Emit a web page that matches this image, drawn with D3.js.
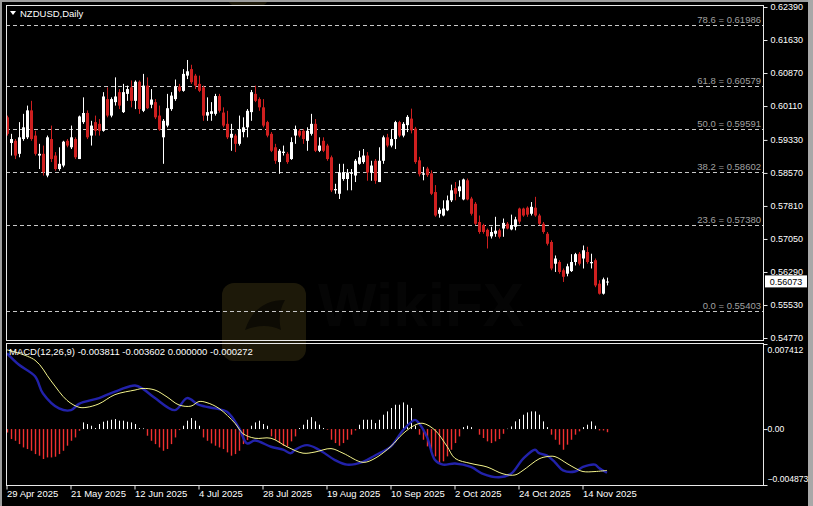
<!DOCTYPE html>
<html>
<head>
<meta charset="utf-8">
<script src="https://cdn.jsdelivr.net/npm/d3@7"></script>
<style>
  body { margin: 0; background: #000; }
  svg text { font-family: "Liberation Sans", Arial, sans-serif; font-size: 9.5px; }
</style>
</head>
<body>
<div id="chart"></div>
<script>
// NZDUSD daily candles (one entry per bar)
var opens = [0.5985,0.5926,0.5931,0.5901,0.5935,0.5939,0.6001,0.5943,0.5897,0.5901,
 0.5851,0.5935,0.5897,0.5866,0.5874,0.5931,0.5916,0.5935,0.5889,0.5974,
 0.5995,0.5943,0.5974,0.5970,0.5954,0.6027,0.5989,0.6020,0.6043,0.5997,
 0.6039,0.6054,0.6023,0.6067,0.6000,0.6058,0.6014,0.6020,0.5989,0.5939,
 0.5966,0.6004,0.6027,0.6056,0.6046,0.6081,0.6096,0.6081,0.6062,0.6054,
 0.5989,0.5993,0.5993,0.6034,0.5996,0.5970,0.5938,0.5943,0.5924,0.5951,
 0.5962,0.5997,0.6039,0.6027,0.6008,0.5974,0.5947,0.5916,0.5882,0.5903,
 0.5901,0.5889,0.5943,0.5954,0.5954,0.5931,0.5947,0.5970,0.5908,0.5931,
 0.5920,0.5893,0.5817,0.5809,0.5843,0.5843,0.5855,0.5851,0.5878,0.5882,
 0.5897,0.5858,0.5885,0.5836,0.5885,0.5939,0.5920,0.5935,0.5974,0.5943,
 0.5967,0.5982,0.5959,0.5886,0.5853,0.5867,0.5856,0.5813,0.5763,0.5759,
 0.5771,0.5794,0.5822,0.5815,0.5796,0.5840,0.5798,0.5786,0.5744,0.5737,
 0.5726,0.5711,0.5717,0.5725,0.5729,0.5740,0.5727,0.5733,0.5775,0.5775,
 0.5777,0.5763,0.5777,0.5759,0.5740,0.5717,0.5698,0.5648,0.5652,0.5633,
 0.5625,0.5631,0.5652,0.5671,0.5660,0.5675,0.5649,0.5656,0.5602,0.5579,
 0.5606];

var highs = [0.5989,0.5947,0.5935,0.5974,0.5993,0.6012,0.6023,0.5954,0.5924,0.5920,
 0.5943,0.5966,0.5905,0.5916,0.5931,0.5935,0.5966,0.5939,0.5989,0.6031,
 0.6001,0.5977,0.5989,0.5981,0.6043,0.6054,0.6031,0.6077,0.6050,0.6062,
 0.6058,0.6070,0.6070,0.6070,0.6085,0.6077,0.6050,0.6027,0.6012,0.5981,
 0.6039,0.6043,0.6072,0.6062,0.6096,0.6117,0.6106,0.6085,0.6081,0.6058,
 0.6031,0.6020,0.6039,0.6039,0.6008,0.6000,0.5970,0.5947,0.5989,0.5985,
 0.6004,0.6048,0.6058,0.6031,0.6027,0.5977,0.5951,0.5924,0.5912,0.5920,
 0.5905,0.5939,0.5966,0.5958,0.5958,0.5962,0.5993,0.5981,0.5939,0.5939,
 0.5924,0.5897,0.5832,0.5878,0.5878,0.5866,0.5866,0.5889,0.5908,0.5912,
 0.5905,0.5885,0.5889,0.5916,0.5943,0.5947,0.5958,0.5977,0.5977,0.5974,
 0.5990,0.6005,0.5963,0.5894,0.5871,0.5871,0.5863,0.5829,0.5777,0.5794,
 0.5805,0.5830,0.5836,0.5840,0.5844,0.5844,0.5802,0.5790,0.5759,0.5740,
 0.5729,0.5733,0.5756,0.5729,0.5752,0.5744,0.5761,0.5756,0.5777,0.5777,
 0.5780,0.5790,0.5802,0.5763,0.5744,0.5721,0.5702,0.5667,0.5656,0.5637,
 0.5648,0.5670,0.5673,0.5675,0.5690,0.5687,0.5671,0.5660,0.5610,0.5616,
 0.5616];

var lows = [0.5943,0.5897,0.5889,0.5893,0.5931,0.5935,0.5931,0.5897,0.5866,0.5851,
 0.5847,0.5882,0.5862,0.5862,0.5870,0.5916,0.5912,0.5889,0.5889,0.5970,
 0.5935,0.5920,0.5943,0.5943,0.5952,0.5985,0.5985,0.6012,0.6004,0.5995,
 0.6023,0.6008,0.6004,0.5993,0.5997,0.6004,0.6006,0.5981,0.5954,0.5878,
 0.5962,0.6000,0.6023,0.6043,0.6044,0.6073,0.6062,0.6050,0.6043,0.5977,
 0.5977,0.5977,0.5989,0.5996,0.5962,0.5935,0.5908,0.5905,0.5920,0.5939,
 0.5939,0.5977,0.6020,0.6000,0.5962,0.5939,0.5905,0.5878,0.5855,0.5897,
 0.5878,0.5887,0.5924,0.5939,0.5924,0.5908,0.5943,0.5905,0.5905,0.5905,
 0.5885,0.5813,0.5809,0.5797,0.5839,0.5817,0.5817,0.5836,0.5876,0.5878,
 0.5839,0.5839,0.5832,0.5836,0.5878,0.5916,0.5916,0.5912,0.5939,0.5939,
 0.5951,0.5948,0.5878,0.5849,0.5840,0.5848,0.5806,0.5756,0.5754,0.5757,
 0.5769,0.5790,0.5794,0.5802,0.5794,0.5794,0.5759,0.5737,0.5717,0.5717,
 0.5683,0.5706,0.5710,0.5706,0.5710,0.5727,0.5725,0.5725,0.5740,0.5756,
 0.5756,0.5759,0.5756,0.5737,0.5717,0.5690,0.5633,0.5629,0.5625,0.5606,
 0.5619,0.5629,0.5644,0.5644,0.5637,0.5648,0.5637,0.5594,0.5577,0.5577,
 0.5598];

var closes = [0.5947,0.5935,0.5897,0.5939,0.5962,0.6001,0.5935,0.5901,0.5901,0.5859,
 0.5939,0.5889,0.5866,0.5878,0.5929,0.5920,0.5939,0.5893,0.5987,0.5995,
 0.5939,0.5966,0.5954,0.5954,0.6033,0.5989,0.6027,0.6033,0.6012,0.6043,
 0.6050,0.6023,0.6067,0.6004,0.6058,0.6006,0.6026,0.5985,0.5957,0.5977,
 0.6006,0.6035,0.6056,0.6046,0.6085,0.6091,0.6066,0.6058,0.6046,0.5989,
 0.5997,0.5999,0.6034,0.6000,0.5966,0.5939,0.5947,0.5924,0.5958,0.5962,
 0.6000,0.6043,0.6023,0.6008,0.5966,0.5943,0.5908,0.5885,0.5908,0.5906,
 0.5882,0.5928,0.5958,0.5943,0.5935,0.5954,0.5970,0.5908,0.5920,0.5908,
 0.5889,0.5817,0.5820,0.5858,0.5858,0.5858,0.5858,0.5885,0.5893,0.5897,
 0.5858,0.5874,0.5839,0.5885,0.5939,0.5920,0.5935,0.5974,0.5943,0.5970,
 0.5986,0.5955,0.5882,0.5854,0.5856,0.5852,0.5809,0.5759,0.5772,0.5775,
 0.5794,0.5817,0.5809,0.5826,0.5842,0.5796,0.5763,0.5740,0.5721,0.5721,
 0.5711,0.5721,0.5724,0.5710,0.5742,0.5729,0.5737,0.5750,0.5745,0.5759,
 0.5761,0.5779,0.5759,0.5740,0.5721,0.5694,0.5637,0.5660,0.5629,0.5618,
 0.5642,0.5652,0.5670,0.5648,0.5679,0.5652,0.5652,0.5598,0.5579,0.5612,
 0.5607];

var currentPrice = 0.56073;

// Fibonacci retracement levels
var fibRatios = ['78.6', '61.8', '50.0', '38.2', '23.6', '0.0'];
var fibPrices = [0.61986, 0.60579, 0.59591, 0.58602, 0.57380, 0.55403];

// Price scale labels
var priceTicks = [0.62390, 0.61630, 0.60870, 0.60110, 0.59330, 0.58570,
  0.57810, 0.57050, 0.56290, 0.55530, 0.54770];

// Date labels and the bar they sit on
var dateTickBars = [0, 16, 32, 48, 64, 80, 96, 112, 128, 144];
var dateTickLabels = ['29 Apr 2025', '21 May 2025', '12 Jun 2025', '4 Jul 2025',
  '28 Jul 2025', '19 Aug 2025', '10 Sep 2025', '2 Oct 2025', '24 Oct 2025', '14 Nov 2025'];

// MACD histogram, one value per bar
var macdHist = [-0.0003,-0.00087,-0.00102,-0.00131,-0.00160,-0.00174,-0.00189,-0.00218,-0.00232,-0.00261,
 -0.00247,-0.00247,-0.00241,-0.00218,-0.00189,-0.00145,-0.00102,-0.00073,-0.00015,0.00058,
 0.00044,0.00029,0.00009,0.00044,0.00064,0.00073,0.00081,0.00087,0.00073,0.00073,
 0.00064,0.00058,0.00044,0.00009,0.00006,-0.00058,-0.00102,-0.00131,-0.00160,-0.00189,
 -0.00174,-0.00131,-0.00073,-0.00009,0.00029,0.00073,0.00096,0.00073,0.00029,-0.00073,
 -0.00102,-0.00125,-0.00145,-0.00160,-0.00174,-0.00203,-0.00232,-0.00218,-0.00189,-0.00131,
 -0.00096,0.00029,0.00058,0.00073,0.00044,0.00029,-0.00064,-0.00093,-0.00122,-0.00145,
 -0.00151,-0.00107,-0.00064,0.00009,0.00038,0.00081,0.00104,0.00067,0.00038,0.00009,
 -0.00006,-0.00093,-0.00122,-0.00145,-0.00122,-0.00093,-0.00049,-0.00012,0.00038,0.00081,
 0.00081,0.00081,0.00052,0.00081,0.00125,0.00154,0.00183,0.00212,0.00212,0.00232,
 0.00212,0.00183,0.00030,-0.00049,-0.00093,-0.00151,-0.00194,-0.00238,-0.00296,-0.00281,
 -0.00238,-0.00180,-0.00122,-0.00064,0.00017,0.00029,0.00017,0.00000,-0.00049,-0.00078,
 -0.00107,-0.00122,-0.00107,-0.00087,-0.00041,0.00003,0.00023,0.00067,0.00087,0.00125,
 0.00145,0.00154,0.00154,0.00125,0.00067,0.00017,-0.00049,-0.00093,-0.00136,-0.00180,
 -0.00136,-0.00093,-0.00049,-0.00020,0.00017,0.00038,0.00067,0.00029,-0.00012,-0.00012,
 -0.000272];

// MACD lines, read at the bars where they could be read
var signalBars = [0, 7, 11, 15, 18, 20, 23, 27, 32, 34, 37, 40, 43, 46, 48, 50, 53, 57, 59, 62, 66,
  70, 74, 77, 81, 84, 89, 92, 96, 99, 102, 104, 107, 110, 112, 116, 120, 124, 127, 129, 133,
  135, 137, 140, 142, 144, 147, 150];
var signalVals = [0.0069, 0.0060, 0.0042, 0.0025, 0.0019, 0.0019, 0.0022, 0.0030, 0.0034, 0.00354,
  0.0034, 0.0028, 0.0021, 0.0020, 0.0024, 0.0023, 0.0018, 0.0005, -0.0004, -0.0008, -0.0008,
  -0.00154, -0.0021, -0.0020, -0.0017, -0.0021, -0.0029, -0.00255, -0.0015, -0.0004, 0.00035,
  0.0005, -0.0001, -0.0015, -0.00255, -0.0030, -0.0033, -0.0039, -0.0040, -0.0036, -0.0026,
  -0.0024, -0.0024, -0.0030, -0.0034, -0.0037, -0.0037, -0.003602];

var mainBars = [0, 3, 7, 9, 13, 16, 18, 23, 28, 32, 34, 37, 42, 45, 48, 52, 55, 58, 60, 62, 66,
  69, 71, 72, 75, 78, 82, 85, 89, 92, 96, 99, 102, 103, 105, 107, 109, 112, 116, 119, 123, 126,
  129, 132, 133, 135, 137, 139, 142, 144, 147, 148, 150];
var mainVals = [0.0066, 0.0056, 0.0046, 0.0031, 0.0018, 0.00165, 0.0022, 0.0027, 0.0034, 0.0038,
  0.0035, 0.0027, 0.00165, 0.0027, 0.0021, 0.0018, 0.0015, 0.0001, -0.00125, -0.0010, -0.00154,
  -0.0018, -0.0021, -0.0018, -0.0014, -0.0018, -0.0027, -0.0031, -0.00285, -0.0023, -0.0015,
  -0.0001, 0.0008, 0.0005, -0.0007, -0.0027, -0.0031, -0.0030, -0.0033, -0.0039, -0.0042, -0.0039,
  -0.0026, -0.0018, -0.0021, -0.0023, -0.0029, -0.0036, -0.0037, -0.0033, -0.0031, -0.0034,
  -0.003811];

var macdMax = 0.007412,
  macdMin = -0.004873;

var width = 813,
  height = 506;

var axisFont = '9px';

var svg = d3.select('#chart')
  .append('svg')
  .attr('width', width)
  .attr('height', height)
  .style('display', 'block');

svg.append('rect')
  .attr('width', width)
  .attr('height', height)
  .attr('fill', '#000');

// Panel geometry
var left = 6,
  right = 763,
  mainTop = 5,
  mainBottom = 340,
  macdTop = 343,
  macdBottom = 485;

var n = closes.length;

// Scales
var xScale = d3.scaleLinear()
  .domain([0, n - 1])
  .range([7, 7 + 4 * (n - 1)]);

var yScale = d3.scaleLinear()
  .domain([0.54770, 0.62390])
  .range([338, 7]);

var mScale = d3.scaleLinear()
  .domain([macdMin, macdMax])
  .range([macdBottom, macdTop + 1]);

// Faint watermark
var wm = svg.append('g').attr('opacity', 0.5);
wm.append('rect')
  .attr('x', 222).attr('y', 283).attr('width', 84).attr('height', 78)
  .attr('rx', 12).attr('fill', '#3a3213');
wm.append('path')
  .attr('d', 'M245,330 q10,-30 40,-30 q-8,14 -4,30 q-16,-8 -36,0 z')
  .attr('fill', '#1a1608');
wm.append('text')
  .attr('x', 318).attr('y', 326)
  .style('font-size', '62px').style('font-weight', 'bold')
  .attr('fill', '#0b0b0b')
  .text('WikiFX');
wm.append('rect')
  .attr('x', 228).attr('y', -40).attr('width', 40).attr('height', 46)
  .attr('rx', 8).attr('fill', '#3a3213');

// Fibonacci levels
var fib = svg.append('g');

fib.selectAll('line')
  .data(fibPrices)
  .enter()
  .append('line')
  .attr('x1', left)
  .attr('x2', right)
  .attr('y1', function(d) { return Math.round(yScale(d)) + 0.5; })
  .attr('y2', function(d) { return Math.round(yScale(d)) + 0.5; })
  .attr('stroke', '#c8c8c8')
  .attr('stroke-dasharray', '4,3');

fib.selectAll('text')
  .data(fibPrices)
  .enter()
  .append('text')
  .attr('x', right - 2)
  .attr('y', function(d) { return Math.round(yScale(d)) - 2; })
  .attr('text-anchor', 'end')
  .attr('fill', '#a0a0a0')
  .text(function(d, i) { return fibRatios[i] + ' = ' + d3.format('.5f')(d); });

// Candles
var candles = svg.append('g')
  .selectAll('g')
  .data(closes)
  .enter()
  .append('g')
  .attr('fill', function(d, i) { return d >= opens[i] ? '#ffffff' : '#cf1f1f'; })
  .attr('stroke', function(d, i) { return d >= opens[i] ? '#ffffff' : '#cf1f1f'; });

candles.append('line')
  .attr('x1', function(d, i) { return xScale(i) + 0.5; })
  .attr('x2', function(d, i) { return xScale(i) + 0.5; })
  .attr('y1', function(d, i) { return yScale(highs[i]); })
  .attr('y2', function(d, i) { return yScale(lows[i]); });

candles.append('rect')
  .attr('stroke', 'none')
  .attr('x', function(d, i) { return xScale(i) - 1; })
  .attr('width', 3)
  .attr('y', function(d, i) { return yScale(Math.max(d, opens[i])); })
  .attr('height', function(d, i) {
    return Math.max(1, yScale(Math.min(d, opens[i])) - yScale(Math.max(d, opens[i])));
  });

// MACD histogram
svg.append('g')
  .selectAll('line')
  .data(macdHist)
  .enter()
  .append('line')
  .attr('x1', function(d, i) { return xScale(i) + 0.5; })
  .attr('x2', function(d, i) { return xScale(i) + 0.5; })
  .attr('y1', mScale(0))
  .attr('y2', function(d) { return mScale(d); })
  .attr('stroke-width', function(d) { return d >= 0 ? 1 : 1.4; })
  .attr('stroke', function(d) { return d >= 0 ? '#ffffff' : '#f03030'; });

// MACD lines
var mainLine = d3.line()
  .x(function(d, i) { return xScale(mainBars[i]); })
  .y(function(d) { return mScale(d); })
  .curve(d3.curveCatmullRom);

svg.append('path')
  .datum(mainVals)
  .attr('d', mainLine)
  .attr('fill', 'none')
  .attr('stroke', '#2222aa')
  .attr('stroke-width', 2.4);

var signalLine = d3.line()
  .x(function(d, i) { return xScale(signalBars[i]); })
  .y(function(d) { return mScale(d); })
  .curve(d3.curveCatmullRom);

svg.append('path')
  .datum(signalVals)
  .attr('d', signalLine)
  .attr('fill', 'none')
  .attr('stroke', '#f4f48c')
  .attr('stroke-width', 1);

// Panel frames
svg.append('rect')
  .attr('x', left + 0.5).attr('y', mainTop + 0.5)
  .attr('width', right - left).attr('height', mainBottom - mainTop)
  .attr('fill', 'none').attr('stroke', '#e8e8e8');

svg.append('rect')
  .attr('x', left + 0.5).attr('y', macdTop + 0.5)
  .attr('width', right - left).attr('height', macdBottom - macdTop)
  .attr('fill', 'none').attr('stroke', '#e8e8e8');

// Price axis
var yAxis = svg.append('g')
  .attr('transform', 'translate(' + (right + 0.5) + ',0)')
  .call(d3.axisRight(yScale)
    .tickValues(priceTicks)
    .tickFormat(d3.format('.5f'))
    .tickSize(4)
    .tickPadding(3));

yAxis.select('.domain').remove();
yAxis.selectAll('line').attr('stroke', '#e8e8e8');
yAxis.selectAll('text').attr('fill', '#ffffff').style('font-size', axisFont)
  .style('font-family', '"Liberation Sans", Arial, sans-serif');

// Current price tag
svg.append('rect')
  .attr('x', 765).attr('y', yScale(currentPrice) - 6)
  .attr('width', 42).attr('height', 12)
  .attr('fill', '#ffffff');

svg.append('text')
  .attr('x', 786).attr('y', yScale(currentPrice))
  .attr('dy', '0.35em')
  .attr('text-anchor', 'middle')
  .attr('fill', '#000')
  .style('font-size', axisFont)
  .text(d3.format('.5f')(currentPrice));

// MACD axis
var mAxis = svg.append('g')
  .attr('transform', 'translate(' + (right + 0.5) + ',0)')
  .call(d3.axisRight(mScale)
    .tickValues([macdMax, 0, macdMin])
    .tickFormat(function(d) { return d === 0 ? '0.00' : d3.format('.6f')(d); })
    .tickSize(4)
    .tickPadding(0));

mAxis.select('.domain').remove();
mAxis.selectAll('line').attr('stroke', '#e8e8e8');
mAxis.selectAll('text').attr('fill', '#ffffff').style('font-size', '8.6px')
  .style('font-family', '"Liberation Sans", Arial, sans-serif')
  .attr('dy', function(d) { return d === macdMax ? '1em' : d === macdMin ? '-0.4em' : '0.32em'; });

// Date axis
var xAxis = svg.append('g')
  .attr('transform', 'translate(-0.5,' + (macdBottom + 0.5) + ')')
  .call(d3.axisBottom(xScale)
    .tickValues(dateTickBars)
    .tickFormat(function(d, i) { return dateTickLabels[i]; })
    .tickSize(4)
    .tickPadding(1));

xAxis.select('.domain').remove();
xAxis.selectAll('line').attr('stroke', '#e8e8e8');
xAxis.selectAll('text')
  .attr('fill', '#ffffff')
  .attr('text-anchor', 'start')
  .attr('x', 0)
  .style('font-size', '9.5px')
  .style('font-family', '"Liberation Sans", Arial, sans-serif');

// window border, drawn last so it trims the right-hand labels
svg.append('rect').attr('x', 0).attr('y', 0).attr('width', width).attr('height', 2).attr('fill', '#9c9c9c');
svg.append('rect').attr('x', 0).attr('y', 0).attr('width', 2).attr('height', height).attr('fill', '#9c9c9c');
svg.append('rect').attr('x', 808).attr('y', 0).attr('width', 5).attr('height', height).attr('fill', '#a8a8a8');

// Titles
svg.append('path')
  .attr('d', 'M10,11 L16,11 L13,15 Z')
  .attr('fill', '#ffffff');

svg.append('text')
  .attr('x', 20).attr('y', 17)
  .attr('fill', '#ffffff')
  .text('NZDUSD,Daily');

svg.append('text')
  .attr('x', 9).attr('y', 355)
  .attr('fill', '#ffffff')
  .text('MACD(12,26,9) -0.003811 -0.003602 0.000000 -0.000272');
</script>
</body>
</html>
